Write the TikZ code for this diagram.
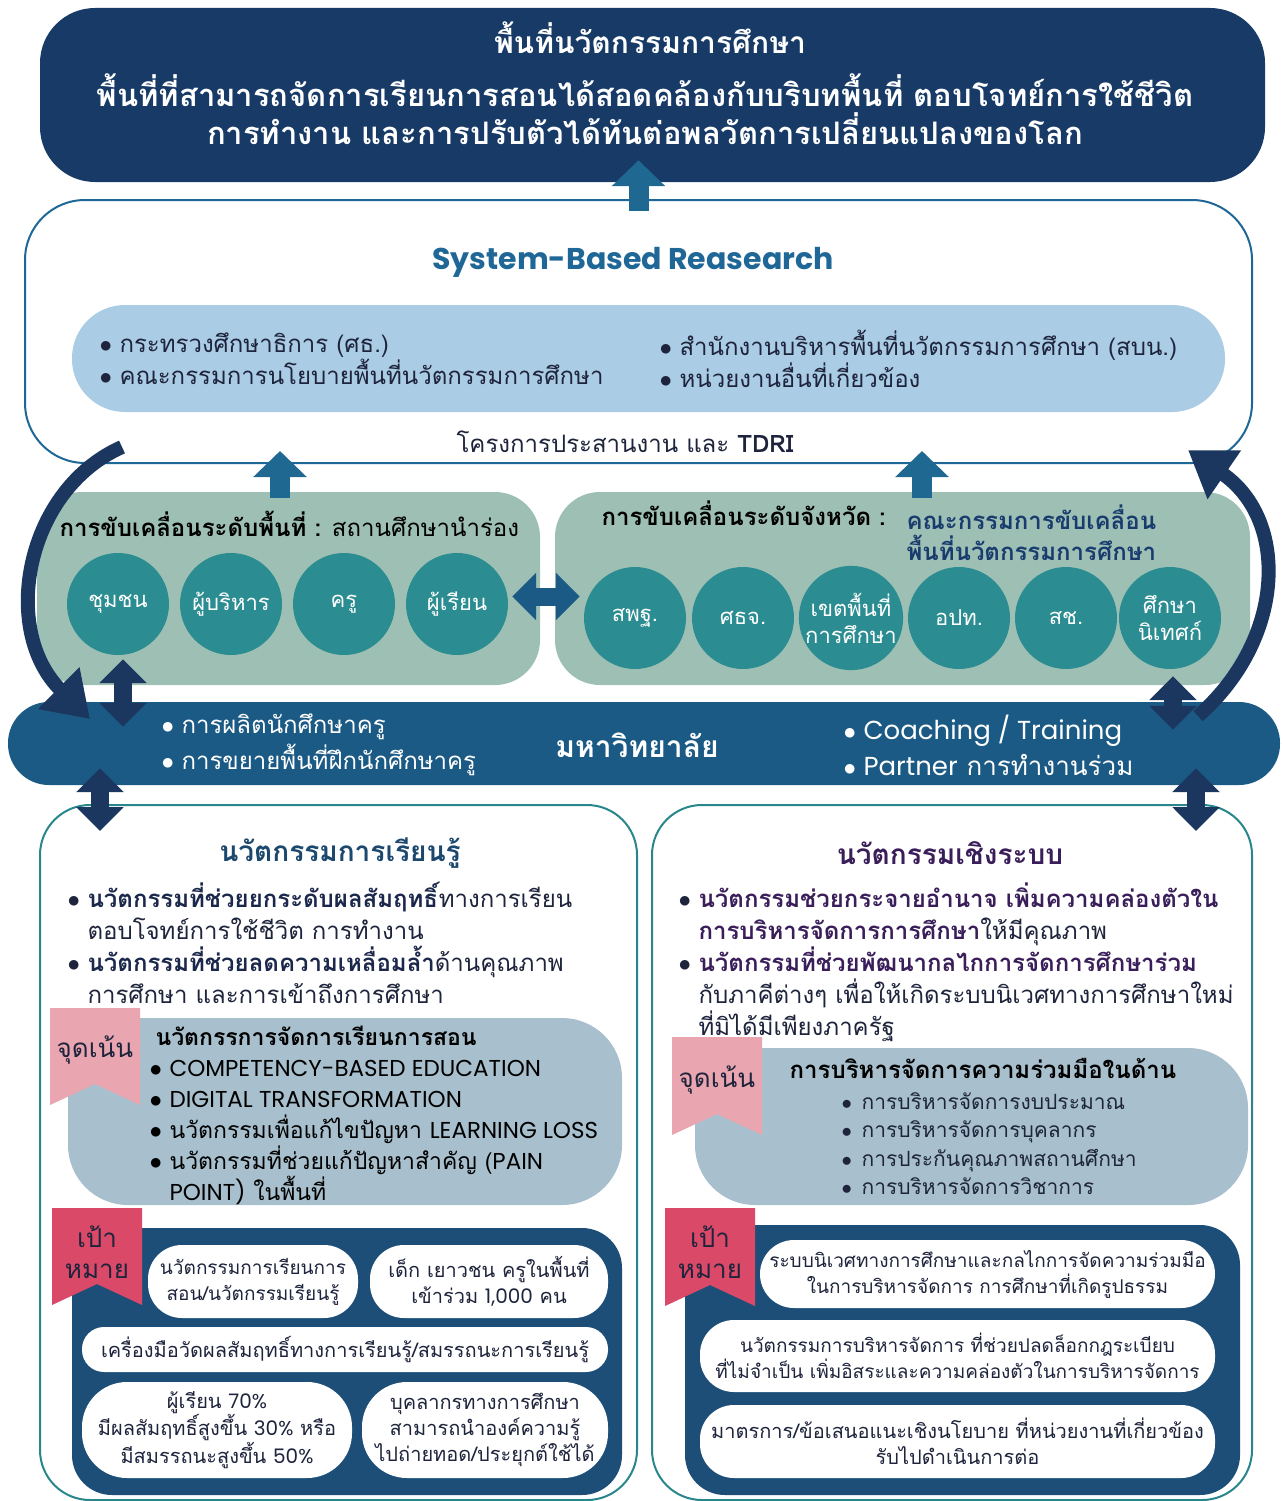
\documentclass[tikz,border=0pt]{standalone}
\usepackage{fontspec}
\setmainfont{Loma}[Script=Thai]
\newfontfamily\lat{Poppins}
\usetikzlibrary{arrows.meta,positioning,calc}

\definecolor{navytop}{RGB}{23,58,102}
\definecolor{sysblue}{RGB}{31,103,150}
\definecolor{lblue}{RGB}{170,204,228}
\definecolor{sage}{RGB}{158,191,180}
\definecolor{tealc}{RGB}{43,141,145}
\definecolor{unib}{RGB}{27,90,132}
\definecolor{arrteal}{RGB}{30,104,145}
\definecolor{arrnavy}{RGB}{27,55,95}
\definecolor{innborder}{RGB}{40,135,140}
\definecolor{graypill}{RGB}{168,192,205}
\definecolor{pinktag}{RGB}{233,166,176}
\definecolor{redtag}{RGB}{218,74,104}
\definecolor{goalnavy}{RGB}{28,78,120}
\definecolor{txtdark}{RGB}{30,36,60}
\definecolor{boldnavy}{RGB}{28,40,75}
\definecolor{purp}{RGB}{58,30,90}
\definecolor{headteal}{RGB}{28,72,110}
\definecolor{comnavy}{RGB}{25,60,110}

\newcommand{\tbul}{\makebox[20pt][l]{$\bullet$}}
\newcommand{\tind}{\hspace*{20pt}}

\begin{document}
\begin{tikzpicture}[x=1pt,y=-1pt,
  shapebox/.style={inner sep=0pt},
  topbox/.style={shapebox,fill=navytop,rounded corners=55pt},
  sysframe/.style={shapebox,draw=sysblue,line width=2pt,fill=white,rounded corners=60pt},
  agencypill/.style={shapebox,fill=lblue,rounded corners=53pt},
  levelbox/.style={shapebox,fill=sage,rounded corners=45pt},
  member/.style={circle,fill=tealc,text=white,inner sep=0pt,minimum size=102pt,
    align=center,font=\fontsize{22}{27}\selectfont},
  unibar/.style={shapebox,fill=unib,rounded corners=41pt},
  innframe/.style={shapebox,draw=innborder,line width=2pt,fill=white,rounded corners=50pt},
  focuspill/.style={shapebox,fill=graypill,rounded corners=60pt},
  goalpanel/.style={shapebox,fill=goalnavy,rounded corners=40pt},
  goalpill/.style={fill=white,rounded corners=34pt,inner sep=0pt,align=center,
    text=txtdark,font=\fontsize{20}{26}\selectfont},
  body/.style={text=txtdark,align=left,font=\fontsize{24}{32}\selectfont},
  fatup/.style={draw=arrteal,line width=20pt,-{Triangle[width=52pt,length=26pt]}},
  dblarrow/.style={draw=arrnavy,line width=18pt,
    {Triangle[width=46pt,length=24pt]}-{Triangle[width=46pt,length=24pt]}},
  curvearrow/.style={draw=arrnavy,line width=14pt,-{Triangle[width=56pt,length=44pt]}},
  ]
\useasboundingbox (0,0) rectangle (1282,1501);

% top: innovation area
\node[topbox,minimum width=1225pt,minimum height=174pt] (topbox) at (652.5,95) {};
\node[text=white,font=\fontsize{30}{38}\selectfont\bfseries] (toptitle) at (650,38) {พื้นที่นวัตกรรมการศึกษา};
\node[text=white,align=center,font=\fontsize{31}{38}\selectfont\bfseries] (topdesc) at (645,109)
  {พื้นที่ที่สามารถจัดการเรียนการสอนได้สอดคล้องกับบริบทพื้นที่ ตอบโจทย์การใช้ชีวิต\\
   การทำงาน และการปรับตัวได้ทันต่อพลวัตการเปลี่ยนแปลงของโลก};

% system-based research
\node[sysframe,minimum width=1227pt,minimum height=263pt] (sysbox) at (638.5,331.5) {};
\draw[fatup] ([yshift=-12pt]sysbox.north) -- ([yshift=22pt]sysbox.north |- topbox.south);
\node[text=sysblue,font=\fontsize{30}{36}\selectfont\lat\bfseries] (systitle) at (633,262) {System-Based Reasearch};
\node[agencypill,minimum width=1153pt,minimum height=107pt] (agency) at (648.5,358.5) {};
\node[body,anchor=west] (agencyL) at (96,359)
  {\tbul กระทรวงศึกษาธิการ (ศธ.)\\ \tbul คณะกรรมการนโยบายพื้นที่นวัตกรรมการศึกษา};
\node[body,anchor=west] (agencyR) at (656,359)
  {\tbul สำนักงานบริหารพื้นที่นวัตกรรมการศึกษา (สบน.)\\ \tbul หน่วยงานอื่นที่เกี่ยวข้อง};
\node[body] (coord) at (625,442) {โครงการประสานงาน และ \textbf{TDRI}};

% area level and province level
\node[levelbox,minimum width=503pt,minimum height=193pt] (lgreen) at (288.5,588.5) {};
\node[levelbox,minimum width=695pt,minimum height=193pt] (rgreen) at (902.5,588.5) {};
\node[body,text=black,anchor=west] (lgtitle) at (56,524) {\textbf{การขับเคลื่อนระดับพื้นที่ :} สถานศึกษานำร่อง};
\node[body,text=black,anchor=west,font=\fontsize{24}{32}\selectfont\bfseries] (rgtitle) at (598,513) {การขับเคลื่อนระดับจังหวัด :};
\node[body,text=comnavy,anchor=west,font=\fontsize{24}{31}\selectfont\bfseries] (rgcom) at (903,533)
  {คณะกรรมการขับเคลื่อน\\พื้นที่นวัตกรรมการศึกษา};
\foreach \name/\x/\txt in {1/118/ชุมชน,2/231/ผู้บริหาร,3/344/ครู,4/457/ผู้เรียน}
  \node[member] (lm\name) at (\x,604) {\txt};
\foreach \name/\x/\txt in {1/635/สพฐ.,2/743/ศธจ.,3/851/{เขตพื้นที่\\การศึกษา},
    4/959/อปท.,5/1066/สช.,6/1170/{ศึกษา\\นิเทศก์}}
  \node[member] (rm\name) at (\x,618) {\txt};

\coordinate (upL) at (280,0);
\coordinate (upR) at (922,0);
\draw[fatup] ($(lgreen.north -| upL)+(0,6)$) -- ($(sysbox.south -| upL)+(0,-13)$);
\draw[fatup] ($(rgreen.north -| upR)+(0,6)$) -- ($(sysbox.south -| upR)+(0,-13)$);
\draw[dblarrow,draw=unib] ($(lgreen.east)+(-28,8)$) -- ($(rgreen.west)+(25,8)$);

% university
\node[unibar,minimum width=1272pt,minimum height=83pt] (uni) at (644,743.5) {};
\node[text=white,font=\fontsize{30}{36}\selectfont\bfseries] (unititle) at (637,745) {มหาวิทยาลัย};
\node[body,text=white,anchor=west,font=\fontsize{24}{36}\selectfont] (uniL) at (158,745)
  {\tbul การผลิตนักศึกษาครู\\ \tbul การขยายพื้นที่ฝึกนักศึกษาครู};
\node[body,text=white,anchor=west,font=\fontsize{26}{36}\selectfont] (uniR) at (840,745)
  {\tbul {\lat Coaching / Training}\\ \tbul {\lat Partner} การทำงานร่วม};

\draw[dblarrow] ($(lm1.south)+(5,4)$) -- ($(lm1.south |- uni.north)+(5,25)$);
\draw[dblarrow] ($(rm6.south)+(3,7)$) -- ($(rm6.south |- uni.north)+(3,28)$);

\coordinate (cL1) at (122,447);
\coordinate (cL2) at (90,719);
\coordinate (cR1) at (1198,716);
\coordinate (cR2) at (1188,450);
\draw[curvearrow] (cL1) .. controls (25,490) and (0,630) .. (cL2);
\draw[curvearrow] (cR1) .. controls (1285,640) and (1290,520) .. (cR2);

% learning innovation
\node[innframe,minimum width=597pt,minimum height=695pt] (learn) at (338.5,1152.5) {};
\node[innframe,minimum width=600pt,minimum height=695pt] (system) at (952,1152.5) {};
\draw[dblarrow] ($(uni.south -| learn.west)+(61,-17)$) -- ($(learn.north -| learn.west)+(61,27)$);
\draw[dblarrow] ($(uni.south -| system.east)+(-57,-17)$) -- ($(system.north -| system.east)+(-57,27)$);

\node[text=headteal,font=\fontsize{28}{34}\selectfont\bfseries] (learntitle) at (340,853) {นวัตกรรมการเรียนรู้};
\node[body,anchor=north west] (learnpts) at (64,879)
  {\tbul\textcolor{boldnavy}{\textbf{นวัตกรรมที่ช่วยยกระดับผลสัมฤทธิ์}}ทางการเรียน\\
   \tind ตอบโจทย์การใช้ชีวิต การทำงาน\\
   \tbul\textcolor{boldnavy}{\textbf{นวัตกรรมที่ช่วยลดความเหลื่อมล้ำ}}ด้านคุณภาพ\\
   \tind การศึกษา และการเข้าถึงการศึกษา};

\node[focuspill,minimum width=554pt,minimum height=187pt] (lfocus) at (345,1111.5) {};
\fill[pinktag] (50,1008) -- (140,1008) -- (140,1105) -- (95,1084) -- (50,1105) -- cycle;
\node[text=txtdark,font=\fontsize{26}{30}\selectfont] (lfocustag) at (95,1050) {จุดเน้น};
\node[body,text=black,anchor=north west,font=\fontsize{23}{31}\selectfont] (lfocuspts) at (146,1022)
  {\hspace*{6pt}\textbf{นวัตกรรการจัดการเรียนการสอน}\\
   \tbul{\lat COMPETENCY-BASED EDUCATION}\\
   \tbul{\lat DIGITAL TRANSFORMATION}\\
   \tbul นวัตกรรมเพื่อแก้ไขปัญหา {\lat LEARNING LOSS}\\
   \tbul นวัตกรรมที่ช่วยแก้ปัญหาสำคัญ ({\lat PAIN}\\
   \tind{\lat POINT)} ในพื้นที่};

\node[goalpanel,minimum width=550pt,minimum height=267pt] (lgoal) at (347,1361.5) {};
\fill[redtag] (52,1208) -- (142,1208) -- (142,1305) -- (97,1284) -- (52,1305) -- cycle;
\node[text=txtdark,align=center,font=\fontsize{26}{31}\selectfont] (lgoaltag) at (97,1252) {เป้า\\หมาย};
\node[goalpill,minimum width=210pt,minimum height=73pt,font=\fontsize{19}{26}\selectfont] (lg1) at (253,1281.5) {นวัตกรรมการเรียนการ\\สอน/นวัตกรรมเรียนรู้};
\node[goalpill,minimum width=238pt,minimum height=73pt] (lg2) at (489,1281.5) {เด็ก เยาวชน ครูในพื้นที่\\เข้าร่วม {\lat 1,000} คน};
\node[goalpill,minimum width=526pt,minimum height=45pt,rounded corners=22pt] (lg3) at (345,1349.5) {เครื่องมือวัดผลสัมฤทธิ์ทางการเรียนรู้/สมรรถนะการเรียนรู้};
\node[goalpill,minimum width=270pt,minimum height=96pt,rounded corners=45pt] (lg4) at (217,1430)
  {ผู้เรียน {\lat 70\%}\\มีผลสัมฤทธิ์สูงขึ้น {\lat 30\%} หรือ\\มีสมรรถนะสูงขึ้น {\lat 50\%}};
\node[goalpill,minimum width=246pt,minimum height=96pt,rounded corners=45pt] (lg5) at (485,1430)
  {บุคลากรทางการศึกษา\\สามารถนำองค์ความรู้\\ไปถ่ายทอด/ประยุกต์ใช้ได้};

% system innovation
\node[text=purp,font=\fontsize{28}{34}\selectfont\bfseries] (systitle2) at (950,853) {นวัตกรรมเชิงระบบ};
\node[body,anchor=north west] (syspts) at (675,879)
  {\tbul\textcolor{purp}{\textbf{นวัตกรรมช่วยกระจายอำนาจ เพิ่มความคล่องตัวใน}}\\
   \tind\textcolor{purp}{\textbf{การบริหารจัดการการศึกษา}}ให้มีคุณภาพ\\
   \tbul\textcolor{purp}{\textbf{นวัตกรรมที่ช่วยพัฒนากลไกการจัดการศึกษาร่วม}}\\
   \tind กับภาคีต่างๆ เพื่อให้เกิดระบบนิเวศทางการศึกษาใหม่\\
   \tind ที่มิได้มีเพียงภาครัฐ};

\node[focuspill,minimum width=553pt,minimum height=157pt] (rfocus) at (971.5,1126.5) {};
\fill[pinktag] (672,1037) -- (762,1037) -- (762,1135) -- (717,1114) -- (672,1135) -- cycle;
\node[text=txtdark,font=\fontsize{26}{30}\selectfont] (rfocustag) at (717,1080) {จุดเน้น};
\node[text=black,font=\fontsize{24}{30}\selectfont\bfseries] (rfocustitle) at (983,1068) {การบริหารจัดการความร่วมมือในด้าน};
\node[body,text=txtdark,anchor=north west,font=\fontsize{21}{28.5}\selectfont] (rfocuspts) at (838,1089)
  {\tbul การบริหารจัดการงบประมาณ\\
   \tbul การบริหารจัดการบุคลากร\\
   \tbul การประกันคุณภาพสถานศึกษา\\
   \tbul การบริหารจัดการวิชาการ};

\node[goalpanel,minimum width=555pt,minimum height=270pt] (rgoal) at (962.5,1360) {};
\fill[redtag] (665,1208) -- (755,1208) -- (755,1306) -- (710,1285) -- (665,1306) -- cycle;
\node[text=txtdark,align=center,font=\fontsize{26}{31}\selectfont] (rgoaltag) at (710,1252) {เป้า\\หมาย};
\node[goalpill,minimum width=455pt,minimum height=68pt,font=\fontsize{19}{26}\selectfont] (rg1) at (987.5,1274)
  {ระบบนิเวศทางการศึกษาและกลไกการจัดความร่วมมือ\\ในการบริหารจัดการ การศึกษาที่เกิดรูปธรรม};
\node[goalpill,minimum width=515pt,minimum height=72pt,font=\fontsize{19}{26}\selectfont] (rg2) at (957.5,1356)
  {นวัตกรรมการบริหารจัดการ ที่ช่วยปลดล็อกกฎระเบียบ\\ที่ไม่จำเป็น เพิ่มอิสระและความคล่องตัวในการบริหารจัดการ};
\node[goalpill,minimum width=515pt,minimum height=73pt] (rg3) at (957.5,1441.5)
  {มาตรการ/ข้อเสนอแนะเชิงนโยบาย ที่หน่วยงานที่เกี่ยวข้อง\\รับไปดำเนินการต่อ};

\end{tikzpicture}
\end{document}
